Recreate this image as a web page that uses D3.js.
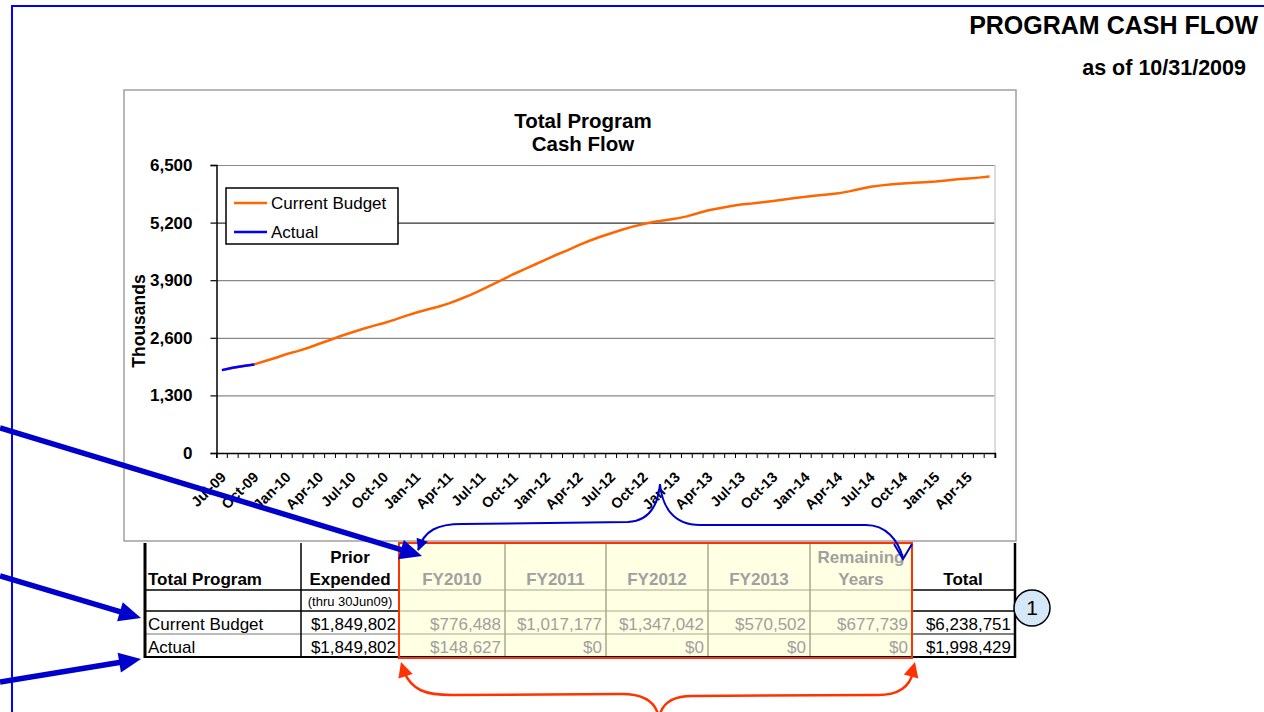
<!DOCTYPE html>
<html lang="en">
<head>
    <meta charset="utf8">
    <title>Program Cash Flow</title>
    <script src="https://d3js.org/d3.v7.min.js"></script>
    <style>
        body { margin: 0; background: #fff; }
        svg { display: block; font-family: Arial, "Liberation Sans", sans-serif; }
    </style>
</head>
<body>
    <svg id="chart" width="1264" height="712"></svg>
    <script>
        // months on the x axis (Jul-09 .. Jun-15)
        const months = [
            "Jul-09","Aug-09","Sep-09","Oct-09","Nov-09","Dec-09","Jan-10","Feb-10","Mar-10","Apr-10","May-10","Jun-10",
            "Jul-10","Aug-10","Sep-10","Oct-10","Nov-10","Dec-10","Jan-11","Feb-11","Mar-11","Apr-11","May-11","Jun-11",
            "Jul-11","Aug-11","Sep-11","Oct-11","Nov-11","Dec-11","Jan-12","Feb-12","Mar-12","Apr-12","May-12","Jun-12",
            "Jul-12","Aug-12","Sep-12","Oct-12","Nov-12","Dec-12","Jan-13","Feb-13","Mar-13","Apr-13","May-13","Jun-13",
            "Jul-13","Aug-13","Sep-13","Oct-13","Nov-13","Dec-13","Jan-14","Feb-14","Mar-14","Apr-14","May-14","Jun-14",
            "Jul-14","Aug-14","Sep-14","Oct-14","Nov-14","Dec-14","Jan-15","Feb-15","Mar-15","Apr-15","May-15","Jun-15"
        ];
        // cumulative, thousands
        const budget = [
            1870, 1925, 1965, 2000, 2075, 2150, 2235, 2300, 2375, 2465, 2550, 2640,
            2720, 2800, 2870, 2935, 3010, 3095, 3170, 3240, 3300, 3378, 3470, 3570,
            3680, 3800, 3920, 4040, 4150, 4260, 4370, 4480, 4580, 4690, 4790, 4880,
            4960, 5040, 5110, 5170, 5220, 5255, 5290, 5340, 5410, 5480, 5525, 5570,
            5610, 5630, 5660, 5690, 5720, 5755, 5785, 5810, 5835, 5860, 5905, 5960,
            6010, 6040, 6065, 6085, 6100, 6110, 6125, 6150, 6180, 6195, 6215, 6239
        ];
        const actual = [1870, 1925, 1965, 1998];
        const yTicks = [0, 1300, 2600, 3900, 5200, 6500];

        // table
        const fyHeaders = [["FY2010"], ["FY2011"], ["FY2012"], ["FY2013"], ["Remaining", "Years"]];
        const rowNames = ["Current Budget", "Actual"];
        const priorExpended = ["$1,849,802", "$1,849,802"];
        const fyBudget = ["$776,488", "$1,017,177", "$1,347,042", "$570,502", "$677,739"];
        const fyActual = ["$148,627", "$0", "$0", "$0", "$0"];
        const totals = ["$6,238,751", "$1,998,429"];

        const svg = d3.select("#chart");
        const BLUE = "#0000cc", RED = "#ff3300", ORANGE = "#ff6600";

        // page frame
        svg.append("path").attr("d", "M12,712 V6 H1264")
           .attr("fill", "none").attr("stroke", "#0000ff").attr("stroke-width", 2);

        svg.append("text").attr("x", 1258).attr("y", 34).attr("text-anchor", "end")
           .attr("font-size", 25).attr("font-weight", "bold").text("PROGRAM CASH FLOW");
        svg.append("text").attr("x", 1246).attr("y", 75).attr("text-anchor", "end")
           .attr("font-size", 21.5).attr("font-weight", "bold").text("as of 10/31/2009");

        // chart box
        svg.append("rect").attr("x", 124).attr("y", 90).attr("width", 892).attr("height", 451)
           .attr("fill", "#fff").attr("stroke", "#a0a0a0").attr("stroke-width", 1.5);

        const x = d3.scaleBand().domain(months).range([216.5, 995]);
        const y = d3.scaleLinear().domain([0, 6500]).range([453, 165]);

        svg.append("text").attr("x", 583).attr("y", 128).attr("text-anchor", "middle")
           .attr("font-size", 20.5).attr("font-weight", "bold").text("Total Program");
        svg.append("text").attr("x", 583).attr("y", 151).attr("text-anchor", "middle")
           .attr("font-size", 20.5).attr("font-weight", "bold").text("Cash Flow");

        // gridlines
        svg.append("g").selectAll("line").data(yTicks.filter(d => d > 0)).join("line")
           .attr("x1", 216.5).attr("x2", 995)
           .attr("y1", d => y(d) + 0.5).attr("y2", d => y(d) + 0.5)
           .attr("stroke", d => d === 5200 ? "#333" : "#888").attr("stroke-width", 1.2);
        svg.append("line").attr("x1", 995).attr("x2", 995).attr("y1", 165).attr("y2", 453)
           .attr("stroke", "#d0d0d0").attr("stroke-width", 1.5);

        // y axis
        const yAxis = svg.append("g").attr("transform", "translate(216.5,0)")
           .call(d3.axisLeft(y).tickValues(yTicks).tickFormat(d3.format(",")).tickSize(6).tickPadding(18));
        yAxis.select(".domain").attr("stroke", "#000").attr("stroke-width", 1.5);
        yAxis.selectAll(".tick line").attr("stroke", "#000").attr("stroke-width", 1.2);
        yAxis.selectAll("text").attr("font-size", 17).attr("font-weight", "bold")
           .attr("font-family", "Arial, 'Liberation Sans', sans-serif").attr("fill", "#000");

        svg.append("text").attr("transform", "translate(145,321) rotate(-90)")
           .attr("text-anchor", "middle").attr("font-size", 17.5).attr("font-weight", "bold").text("Thousands");

        // x axis: ticks between categories, labels every quarter
        const step = x.step();
        const xAxis = svg.append("g").attr("transform", "translate(0,453)")
           .call(d3.axisBottom(x).tickSize(5).tickFormat(""));
        xAxis.select(".domain").attr("stroke", "#000").attr("stroke-width", 1.5);
        xAxis.selectAll(".tick line").attr("transform", `translate(${-step / 2},0)`)
           .attr("stroke", "#000");
        xAxis.append("line").attr("x1", 995).attr("x2", 995).attr("y1", 0).attr("y2", 5).attr("stroke", "#000");

        svg.append("g").selectAll("text").data(months.filter((m, i) => i % 3 === 0)).join("text")
           .attr("transform", d => `translate(${x(d) + step / 2 + 5},478) rotate(-45)`)
           .attr("text-anchor", "end").attr("font-size", 14.5).attr("font-weight", "bold")
           .text(d => d);

        // lines
        const line = d3.line().x((d, i) => x(months[i]) + step / 2).y(d => y(d));
        svg.append("path").datum(budget).attr("d", line)
           .attr("fill", "none").attr("stroke", ORANGE).attr("stroke-width", 2.5);
        svg.append("path").datum(actual).attr("d", line)
           .attr("fill", "none").attr("stroke", "#0000ff").attr("stroke-width", 2.5);

        // legend
        const lg = svg.append("g").attr("transform", "translate(226,188)");
        lg.append("rect").attr("width", 172).attr("height", 56)
           .attr("fill", "#fff").attr("stroke", "#000").attr("stroke-width", 1.5);
        [["Current Budget", ORANGE], ["Actual", "#0000ff"]].forEach(([name, c], i) => {
            lg.append("line").attr("x1", 8).attr("x2", 41).attr("y1", 15 + i * 29).attr("y2", 15 + i * 29)
              .attr("stroke", c).attr("stroke-width", 2.5);
            lg.append("text").attr("x", 45).attr("y", 21 + i * 29).attr("font-size", 17).text(name);
        });

        // table
        const colX = [145, 301, 399, 505, 606, 708, 810, 912, 1015];
        const rowY = [543, 590, 611, 634, 657];
        const grey = "#a0a0a0";

        svg.append("rect").attr("x", colX[2]).attr("y", rowY[0]).attr("width", colX[7] - colX[2])
           .attr("height", rowY[4] - rowY[0]).attr("fill", "#ffffe3");

        const tl = svg.append("g");
        const hl = (x1, x2, yy, c, w) => tl.append("line").attr("x1", x1).attr("x2", x2)
           .attr("y1", yy).attr("y2", yy).attr("stroke", c).attr("stroke-width", w);
        const vl = (xx, y1, y2, c, w) => tl.append("line").attr("x1", xx).attr("x2", xx)
           .attr("y1", y1).attr("y2", y2).attr("stroke", c).attr("stroke-width", w);

        // yellow grid
        colX.slice(3, 7).forEach(cx => vl(cx, rowY[0], rowY[4], "#a8a890", 1.5));
        rowY.slice(1, 4).forEach(ry => hl(colX[2], colX[7], ry, "#a8a890", 1.2));
        // black grid
        [1, 2].forEach(r => { hl(colX[0], colX[2], rowY[r], "#000", 1.5); hl(colX[7], colX[8], rowY[r], "#000", 1.5); });
        hl(colX[0], colX[2], rowY[3], "#777", 1.2);
        hl(colX[7], colX[8], rowY[3], "#000", 1.2);
        hl(colX[0], colX[8], rowY[4], "#000", 2);
        vl(colX[0], rowY[0], rowY[4] + 1, "#000", 3);
        vl(colX[1], rowY[0], rowY[4], "#000", 1.5);
        vl(colX[8], rowY[0], rowY[4] + 1, "#000", 2.5);

        svg.append("rect").attr("x", colX[2]).attr("y", rowY[0]).attr("width", colX[7] - colX[2])
           .attr("height", rowY[4] - rowY[0] + 1).attr("fill", "none").attr("stroke", RED).attr("stroke-width", 2);

        const tt = svg.append("g").attr("font-size", 17);
        tt.append("text").attr("x", 148).attr("y", 585).attr("font-weight", "bold").text("Total Program");
        tt.append("text").attr("x", 350).attr("y", 563).attr("text-anchor", "middle").attr("font-weight", "bold").text("Prior");
        tt.append("text").attr("x", 350).attr("y", 585).attr("text-anchor", "middle").attr("font-weight", "bold").text("Expended");
        tt.append("text").attr("x", 350).attr("y", 606).attr("text-anchor", "middle").attr("font-size", 13).text("(thru 30Jun09)");
        tt.append("text").attr("x", 963).attr("y", 585).attr("text-anchor", "middle").attr("font-weight", "bold").text("Total");

        fyHeaders.forEach((h, i) => {
            const cx = (colX[i + 2] + colX[i + 3]) / 2;
            h.forEach((s, k) => tt.append("text").attr("x", cx).attr("y", 585 - (h.length - 1 - k) * 22)
               .attr("text-anchor", "middle").attr("font-weight", "bold").attr("fill", grey).text(s));
        });

        rowNames.forEach((name, r) => {
            const by = rowY[r + 2] + 19;
            tt.append("text").attr("x", 148).attr("y", by).text(name);
            tt.append("text").attr("x", colX[2] - 3).attr("y", by).attr("text-anchor", "end").text(priorExpended[r]);
            const vals = r === 0 ? fyBudget : fyActual;
            vals.forEach((v, i) => tt.append("text").attr("x", colX[i + 3] - 4).attr("y", by)
               .attr("text-anchor", "end").attr("fill", grey).text(v));
            tt.append("text").attr("x", colX[8] - 4).attr("y", by).attr("text-anchor", "end").text(totals[r]);
        });

        // note marker
        svg.append("circle").attr("cx", 1032).attr("cy", 608).attr("r", 18)
           .attr("fill", "#d5e8f8").attr("stroke", "#000").attr("stroke-width", 1.5);
        svg.append("text").attr("x", 1032).attr("y", 615).attr("text-anchor", "middle")
           .attr("font-size", 21).text("1");

        // annotations
        const head = (x1, y1, x2, y2, len, wid) => {
            const a = Math.atan2(y2 - y1, x2 - x1), c = Math.cos(a), s = Math.sin(a);
            const bx = x2 - len * c, by = y2 - len * s;
            return `M${x2},${y2} L${bx - wid / 2 * s},${by + wid / 2 * c} L${bx + wid / 2 * s},${by - wid / 2 * c} Z`;
        };
        const ann = svg.append("g");
        [[0, 428, 422, 556], [0, 576, 141, 618], [0, 682, 141, 659]].forEach(([x1, y1, x2, y2]) => {
            const a = Math.atan2(y2 - y1, x2 - x1);
            ann.append("line").attr("x1", x1).attr("y1", y1)
               .attr("x2", x2 - 16 * Math.cos(a)).attr("y2", y2 - 16 * Math.sin(a))
               .attr("stroke", BLUE).attr("stroke-width", 5.5);
            ann.append("path").attr("d", head(x1, y1, x2, y2, 22, 20)).attr("fill", BLUE);
        });

        // blue brace
        ann.append("path")
           .attr("d", "M418,550 C424,530 438,524 462,524 L628,522 C650,521 658,505 660,484 C662,505 672,525 700,525 L866,525 C886,525 898,540 903,558")
           .attr("fill", "none").attr("stroke", BLUE).attr("stroke-width", 2);
        ann.append("path").attr("d", "M894,544 L903,559 L912,544").attr("fill", "none")
           .attr("stroke", BLUE).attr("stroke-width", 2);
        ann.append("path").attr("d", head(424, 535, 418, 551, 12, 12)).attr("fill", BLUE);

        // red brace
        ann.append("path")
           .attr("d", "M404,672 C412,690 425,695 452,695 L622,694 C646,694 655,704 658,714 M660,714 C663,704 672,696 692,696 L878,695 C900,695 910,686 913,672")
           .attr("fill", "none").attr("stroke", RED).attr("stroke-width", 2.5);
        ann.append("path").attr("d", head(408, 684, 401, 662, 15, 15)).attr("fill", RED);
        ann.append("path").attr("d", head(909, 684, 915, 662, 15, 15)).attr("fill", RED);
    </script>
</body>
</html>
